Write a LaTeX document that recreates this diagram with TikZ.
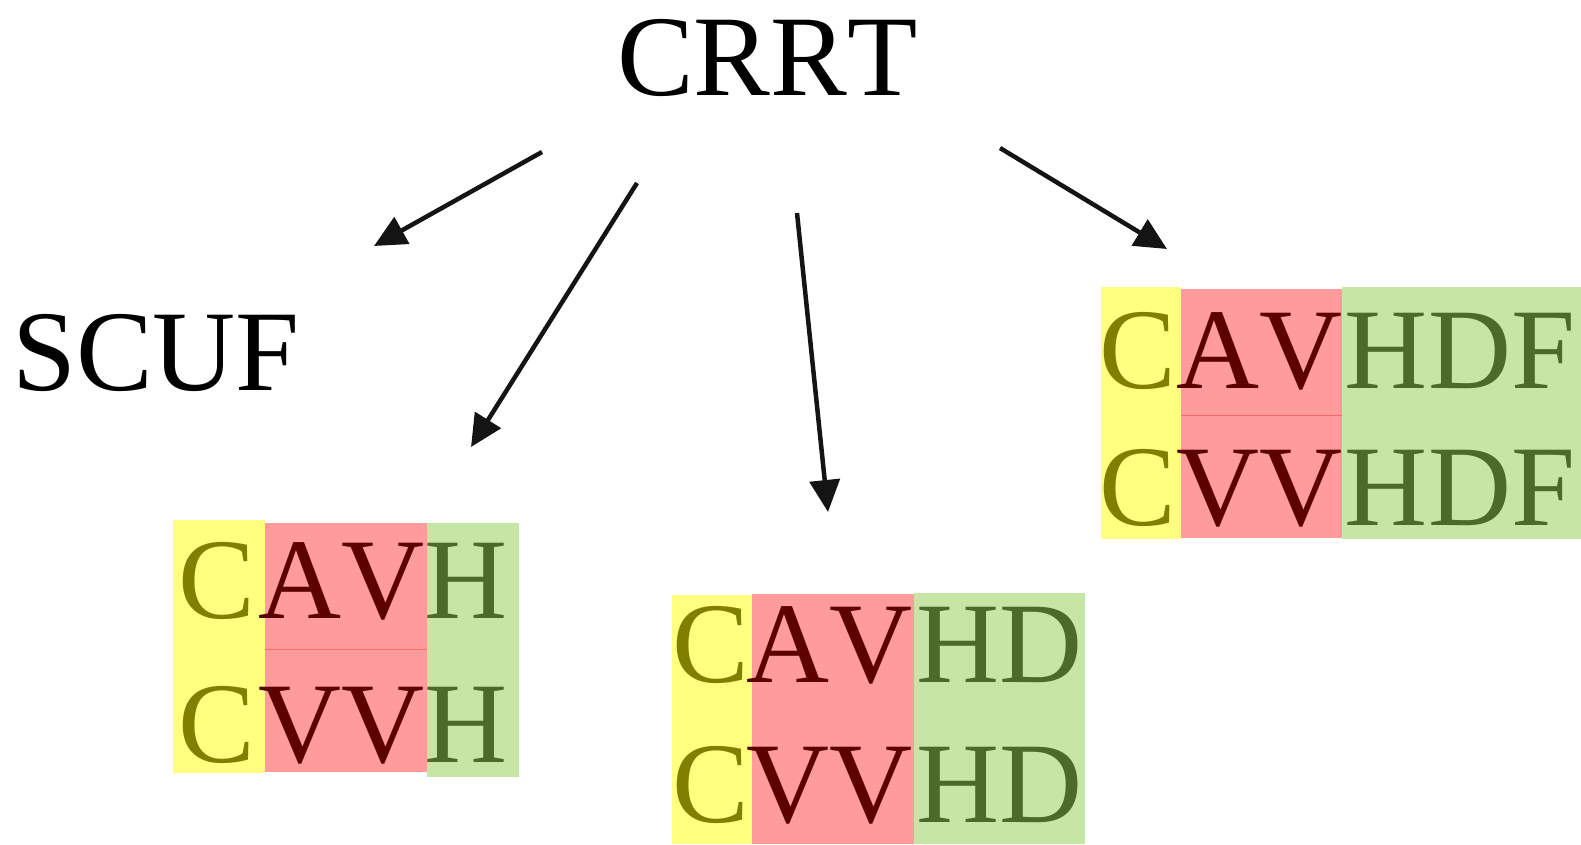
\documentclass[tikz,border=0pt]{standalone}
\usepackage{fontspec}
\setmainfont[Kerning=Off]{Liberation Serif}
\usetikzlibrary{arrows.meta}
\definecolor{cyel}{HTML}{FFFF80}
\definecolor{cred}{HTML}{FF9B9B}
\definecolor{cgrn}{HTML}{C6E6A6}
\definecolor{tyel}{HTML}{7F7F00}
\definecolor{tred}{HTML}{5C0000}
\definecolor{tgrn}{HTML}{4A6B2A}
\definecolor{dline}{HTML}{FF6666}
\tikzset{
  big/.style={inner sep=0pt, anchor=base, font=\fontsize{115}{138}\selectfont},
  big west/.style={big, anchor=base west},
  ty/.style={big, text=tyel},
  tr/.style={big, text=tred},
  tg/.style={big, text=tgrn},
  conn/.style={line width=4.5pt, -{Triangle[length=32pt,width=30pt]}, draw=black!92},
  divider/.style={draw=dline, line width=1pt}
}
\begin{document}
\begin{tikzpicture}[x=1pt,y=-1pt]
\useasboundingbox (0,0) rectangle (1581,844);
% titles
\node[big west] (crrt) at (617,95) {CRRT};
\node[big west] (scuf) at (12,390) {SCUF};
% box 1
\fill[cyel] (173,520) rectangle (265,773);
\fill[cred] (265,523) rectangle (427,772);
\fill[cgrn] (427,523) rectangle (519,777);
\draw[divider] (265,649) -- (427,649);
\node[ty] (b1c1) at (217,618) {C};
\node[tr] (b1r1) at (342,618) {AV};
\node[tg] (b1g1) at (466,618) {H};
\node[ty] (b1c2) at (217,762) {C};
\node[tr] (b1r2) at (342,762) {VV};
\node[tg] (b1g2) at (466,762) {H};
% box 2
\fill[cyel] (672,595) rectangle (752,844);
\fill[cred] (752,594) rectangle (914,844);
\fill[cgrn] (914,593) rectangle (1085,844);
\node[ty] (b2c1) at (711,682) {C};
\node[tr] (b2r1) at (830,682) {AV};
\node[tg] (b2g1) at (1000,682) {HD};
\node[ty] (b2c2) at (711,822) {C};
\node[tr] (b2r2) at (830,822) {VV};
\node[tg] (b2g2) at (1000,822) {HD};
% box 3
\fill[cyel] (1101,287) rectangle (1181,539);
\fill[cred] (1181,289) rectangle (1342,538);
\fill[cgrn] (1342,287) rectangle (1581,539);
\draw[divider] (1181,415) -- (1342,415);
\node[ty] (b3c1) at (1138,388) {C};
\node[tr] (b3r1) at (1260,388) {AV};
\node[tg] (b3g1) at (1460,388) {HDF};
\node[ty] (b3c2) at (1138,525) {C};
\node[tr] (b3r2) at (1260,525) {VV};
\node[tg] (b3g2) at (1460,525) {HDF};
% arrow end points
\coordinate (a1s) at (542,152);
\coordinate (a1e) at (374,246);
\coordinate (a2s) at (637,183);
\coordinate (a2e) at (471,447);
\coordinate (a3s) at (797,213);
\coordinate (a3e) at (828,512);
\coordinate (a4s) at (1000,148);
\coordinate (a4e) at (1167,249);
\draw[conn] (a1s) -- (a1e);
\draw[conn] (a2s) -- (a2e);
\draw[conn] (a3s) -- (a3e);
\draw[conn] (a4s) -- (a4e);
\end{tikzpicture}
\end{document}
